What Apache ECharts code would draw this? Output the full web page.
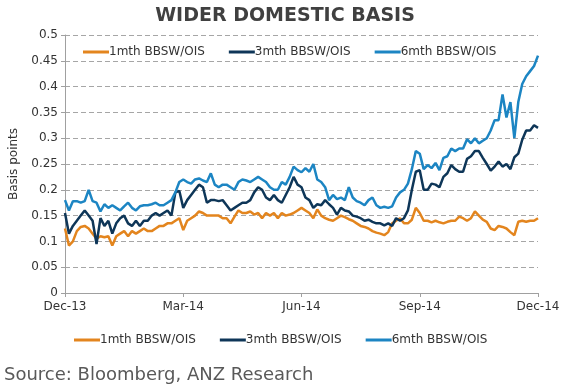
<!DOCTYPE html>
<html>
<head>
<meta charset="utf-8">
<script src="https://cdn.jsdelivr.net/npm/echarts@6/dist/echarts.min.js"></script>
<style>
html,body{margin:0;padding:0;background:#fff;}
#chart{width:570px;height:392px;}
</style>
</head>
<body>
<div id="chart"></div>
<script>
const tickLabels = ['Dec-13', 'Mar-14', 'Jun-14', 'Sep-14', 'Dec-14'];
const seriesNames = ['1mth BBSW/OIS', '3mth BBSW/OIS', '6mth BBSW/OIS'];

const m1 = [0.125,0.092,0.1,0.12,0.128,0.13,0.125,0.115,0.105,0.11,0.108,0.11,0.092,0.11,0.115,0.12,0.11,0.12,0.115,0.12,0.125,
0.12,0.12,0.125,0.13,0.13,0.135,0.135,0.14,0.145,0.122,0.14,0.145,0.15,0.158,0.155,0.15,0.15,0.15,0.15,0.145,
0.145,0.135,0.148,0.16,0.155,0.155,0.158,0.152,0.155,0.145,0.155,0.15,0.155,0.145,0.155,0.15,0.152,0.155,0.16,0.165,
0.16,0.155,0.145,0.162,0.15,0.145,0.142,0.14,0.145,0.15,0.147,0.143,0.14,0.135,0.13,0.128,0.125,0.12,0.117,0.115,
0.112,0.118,0.135,0.14,0.145,0.135,0.135,0.142,0.165,0.155,0.14,0.14,0.137,0.14,0.137,0.135,0.138,0.14,0.14,0.148,
0.145,0.14,0.145,0.158,0.15,0.142,0.138,0.125,0.122,0.13,0.128,0.125,0.118,0.112,0.138,0.14,0.138,0.14,0.14,0.145];

const m3 = [0.155,0.115,0.13,0.14,0.15,0.16,0.15,0.14,0.095,0.145,0.13,0.14,0.115,0.135,0.145,0.15,0.135,0.13,0.14,0.13,0.14,
0.14,0.15,0.155,0.15,0.155,0.16,0.15,0.195,0.198,0.165,0.18,0.19,0.2,0.21,0.205,0.175,0.18,0.18,0.178,0.18,
0.17,0.16,0.165,0.17,0.175,0.175,0.18,0.195,0.205,0.2,0.185,0.18,0.19,0.18,0.175,0.19,0.205,0.225,0.21,0.205,
0.185,0.18,0.165,0.172,0.17,0.18,0.172,0.165,0.152,0.165,0.16,0.158,0.15,0.148,0.145,0.14,0.142,0.138,0.135,0.135,
0.131,0.135,0.13,0.145,0.14,0.145,0.16,0.2,0.235,0.238,0.2,0.2,0.212,0.21,0.205,0.225,0.232,0.248,0.24,0.235,
0.235,0.26,0.265,0.275,0.275,0.262,0.25,0.237,0.245,0.255,0.245,0.25,0.24,0.263,0.27,0.297,0.315,0.315,0.325,0.32];

const m6 = [0.18,0.16,0.178,0.178,0.175,0.178,0.2,0.178,0.175,0.158,0.172,0.165,0.17,0.165,0.16,0.168,0.175,0.165,0.16,0.168,0.17,
0.17,0.172,0.175,0.17,0.17,0.175,0.18,0.195,0.215,0.22,0.215,0.212,0.22,0.222,0.218,0.215,0.232,0.21,0.205,0.21,
0.21,0.205,0.2,0.215,0.22,0.218,0.215,0.22,0.225,0.22,0.215,0.205,0.2,0.2,0.215,0.21,0.225,0.245,0.238,0.234,
0.242,0.235,0.25,0.22,0.215,0.205,0.18,0.19,0.182,0.185,0.18,0.205,0.185,0.178,0.175,0.17,0.18,0.185,0.17,0.165,
0.167,0.165,0.168,0.185,0.195,0.2,0.212,0.24,0.275,0.27,0.24,0.248,0.242,0.252,0.238,0.262,0.265,0.28,0.275,0.28,
0.28,0.298,0.29,0.3,0.29,0.295,0.3,0.315,0.335,0.335,0.385,0.34,0.37,0.3,0.37,0.405,0.42,0.43,0.44,0.46];

// category positions: roughly every ~3 days from Dec-13 to Dec-14
const categories = m1.map((_, i) => 'p' + i);

const colors = ['#E3851E', '#0E3658', '#1C85C3'];
const font = 'DejaVu Sans';

const chart = echarts.init(document.getElementById('chart'));
const legendBase = {
  data: seriesNames,
  icon: 'rect',
  itemWidth: 26,
  itemHeight: 3,
  itemGap: 24,
  textStyle: { fontFamily: font, fontSize: 12, color: '#333', padding: [0, 0, 0, -5] }
};
chart.setOption({
  animation: false,
  color: colors,
  title: {
    text: 'WIDER DOMESTIC BASIS',
    left: 'center',
    top: 2,
    textStyle: { fontFamily: font, fontSize: 19, fontWeight: 'bold', color: '#404040' }
  },
  legend: [
    Object.assign({ left: 78, top: 41 }, legendBase),
    Object.assign({ left: 69, top: 329 }, legendBase)
  ],
  grid: { left: 62, right: 32, top: 35, bottom: 99 },
  xAxis: {
    type: 'category',
    data: categories,
    boundaryGap: false,
    axisLine: { lineStyle: { color: '#A0A0A0' } },
    axisTick: { interval: 29, length: 4, lineStyle: { color: '#A0A0A0' } },
    axisLabel: {
      interval: 29,
      margin: 8,
      fontFamily: font, fontSize: 12, color: '#333',
      formatter: (v, i) => tickLabels[Math.round(i / 30)]
    },
    splitLine: { show: false }
  },
  yAxis: {
    type: 'value',
    min: 0, max: 0.5, interval: 0.05,
    name: 'Basis points',
    nameLocation: 'middle',
    nameRotate: 90,
    nameGap: 45,
    nameTextStyle: { fontFamily: font, fontSize: 12, color: '#333' },
    axisLine: { show: true, lineStyle: { color: '#A0A0A0' } },
    axisTick: { show: true, length: 4, lineStyle: { color: '#A0A0A0' } },
    axisLabel: {
      fontFamily: font, fontSize: 12, color: '#333', margin: 7,
      formatter: v => String(Math.round(v * 100) / 100)
    },
    splitLine: { lineStyle: { color: '#A6A6A6', type: [5, 3], width: 1 } }
  },
  series: [m1, m3, m6].map((d, k) => ({
    name: seriesNames[k],
    type: 'line',
    data: d,
    showSymbol: false,
    symbol: 'none',
    lineStyle: { width: 2.5, color: colors[k] },
    z: 3 + k
  })),
  graphic: [{
    type: 'text',
    left: 4,
    top: 366,
    style: { text: 'Source: Bloomberg, ANZ Research', fontFamily: font, fontSize: 18, fill: '#595959' }
  }]
});
</script>
</body>
</html>
